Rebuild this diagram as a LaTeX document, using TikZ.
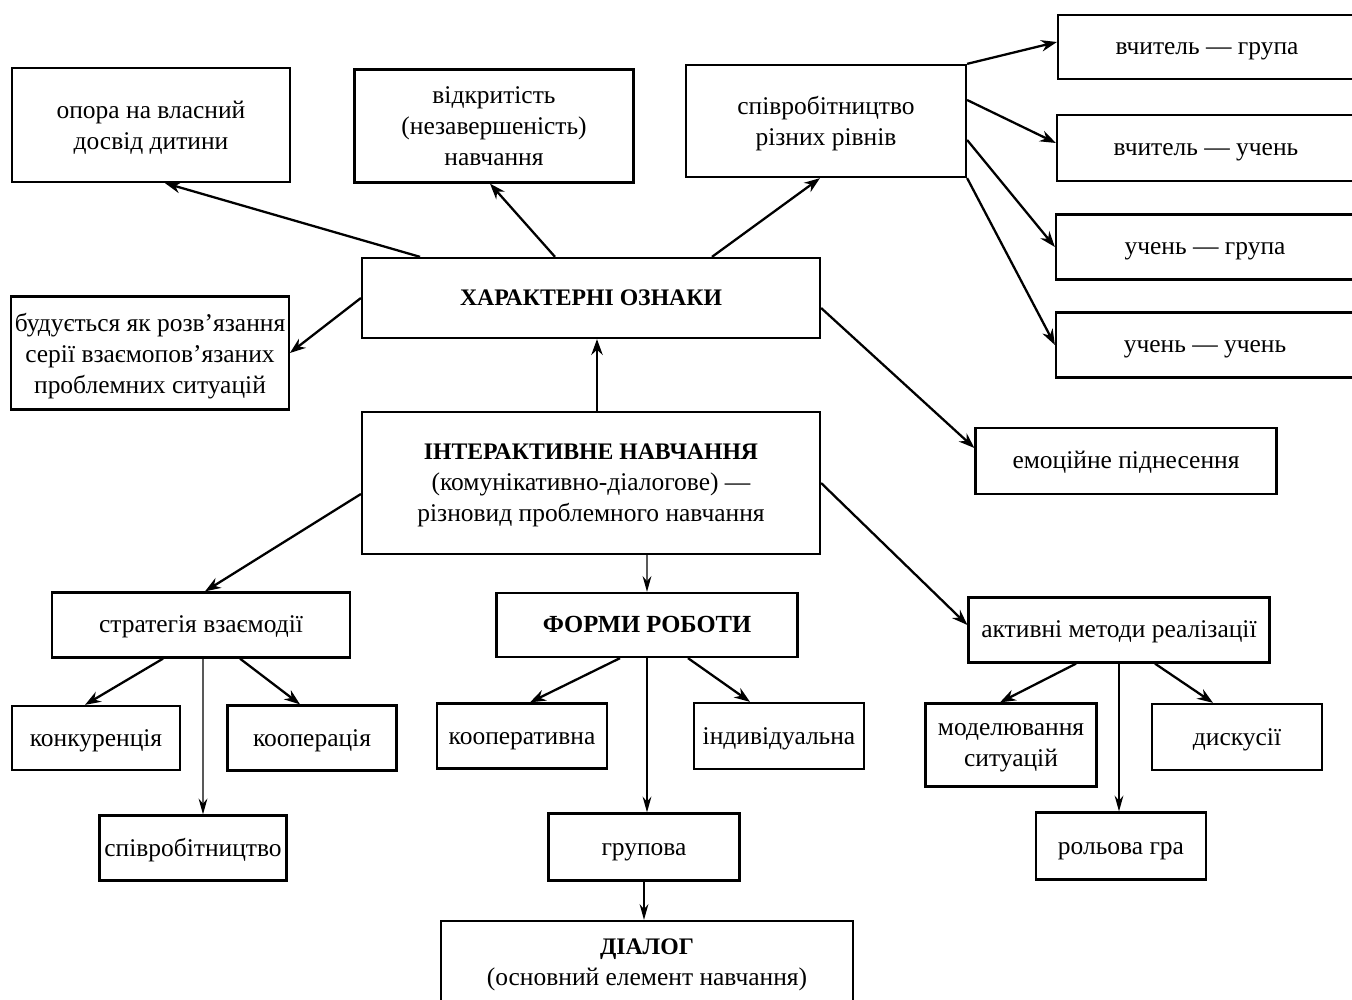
\documentclass[tikz,border=0pt]{standalone}
\usepackage{fontspec}
\setmainfont{Liberation Serif}
\usetikzlibrary{arrows.meta}
\tikzset{
  base/.style={draw, line width=1.3pt, inner sep=2pt,
    font=\fontsize{14.5}{17.6}\selectfont},
  box/.style={base, text height=11pt, text depth=1.9pt},
  mbox/.style={base, align=center, text depth=-1.5pt},
  hbox/.style={box, font=\fontsize{13.5}{17.6}\selectfont\bfseries},
  arr/.style={line width=1.3pt, -{Stealth[length=9pt,width=6.5pt]}},
  thin/.style={line width=0.8pt, -{Stealth[length=9pt,width=5pt]}}
}
\begin{document}
\begin{tikzpicture}[x=0.02cm,y=-0.02cm]
\useasboundingbox (0,0) rectangle (1352,1000);
\clip (0,0) rectangle (1352,1000);
% top row
\node[mbox, minimum width=5.56cm, minimum height=2.28cm] (op) at (151,125) {опора на власний\\досвід дитини};
\node[mbox, minimum width=5.58cm, minimum height=2.26cm] (vk) at (494,126) {відкритість\\(незавершеність)\\навчання};
\node[mbox, minimum width=5.60cm, minimum height=2.24cm] (sp) at (826,121) {співробітництво\\різних рівнів};
% right column
\node[box, minimum width=5.96cm, minimum height=1.28cm] (vg) at (1207,47) {вчитель — група};
\node[box, minimum width=5.96cm, minimum height=1.32cm] (vu) at (1206,148) {вчитель — учень};
\node[box, minimum width=5.96cm, minimum height=1.30cm] (ug) at (1205,247) {учень — група};
\node[box, minimum width=5.96cm, minimum height=1.30cm] (uu) at (1205,345) {учень — учень};
% middle
\node[hbox, minimum width=9.16cm, minimum height=1.60cm] (ch) at (591,298) {ХАРАКТЕРНІ ОЗНАКИ};
\node[mbox, minimum width=5.54cm, minimum height=2.26cm] (bu) at (150,353) {будується як розв'язання\\серії взаємопов'язаних\\проблемних ситуацій};
\node[mbox, minimum width=9.16cm, minimum height=2.84cm] (in) at (591,483) {{\bfseries\fontsize{13.5}{17.6}\selectfont ІНТЕРАКТИВНЕ НАВЧАННЯ}\\(комунікативно-діалогове) —\\різновид проблемного навчання};
\node[box, minimum width=6.02cm, minimum height=1.32cm] (em) at (1126,461) {емоційне піднесення};
% second level
\node[box, minimum width=5.96cm, minimum height=1.30cm] (st) at (201,625) {стратегія взаємодії};
\node[hbox, minimum width=6.02cm, minimum height=1.28cm, font=\fontsize{14}{17.6}\selectfont\bfseries] (fr) at (647,625) {ФОРМИ РОБОТИ};
\node[box, minimum width=6.02cm, minimum height=1.30cm] (ak) at (1119,630) {активні методи реалізації};
% leaves
\node[box, minimum width=3.36cm, minimum height=1.28cm] (ko) at (96,738) {конкуренція};
\node[box, minimum width=3.38cm, minimum height=1.30cm] (kp) at (312,738) {кооперація};
\node[box, minimum width=3.74cm, minimum height=1.30cm] (sv) at (193,848) {співробітництво};
\node[box, minimum width=3.40cm, minimum height=1.30cm] (kt) at (522,736) {кооперативна};
\node[box, minimum width=3.40cm, minimum height=1.32cm] (id) at (779,736) {індивідуальна};
\node[box, minimum width=3.82cm, minimum height=1.34cm] (gr) at (644,847) {групова};
\node[mbox, minimum width=8.24cm, minimum height=1.64cm] (di) at (647,962) {{\bfseries\fontsize{13.5}{17.6}\selectfont ДІАЛОГ}\\(основний елемент навчання)};
\node[mbox, minimum width=3.42cm, minimum height=1.66cm] (mo) at (1011,745) {моделювання\\ситуацій};
\node[box, minimum width=3.40cm, minimum height=1.32cm] (ds) at (1237,737) {дискусії};
\node[box, minimum width=3.40cm, minimum height=1.34cm] (rg) at (1121,846) {рольова гра};
% arrows from ХАРАКТЕРНІ ОЗНАКИ
\draw[arr] ([xshift=-3.42cm]ch.north) -- ([xshift=0.28cm]op.south);
\draw[arr] ([xshift=-0.72cm]ch.north) -- ([xshift=-0.08cm]vk.south);
\draw[arr] ([xshift=2.42cm]ch.north) -- ([xshift=-0.12cm]sp.south);
\draw[arr] (ch.west) -- (bu.east);
\draw[arr] ([yshift=-0.2cm]ch.east) -- ([yshift=0.26cm]em.west);
\draw[arr] ([xshift=0.12cm]in.north) -- ([xshift=0.12cm]ch.south);
% from співробітництво
\draw[arr] (sp.north east) -- ([yshift=0.1cm]vg.west);
\draw[arr] ([yshift=0.42cm]sp.east) -- ([yshift=0.1cm]vu.west);
\draw[arr] ([yshift=-0.38cm]sp.east) -- (ug.west);
\draw[arr] (sp.south east) -- (uu.west);
% from ІНТЕРАКТИВНЕ НАВЧАННЯ
\draw[arr] ([yshift=-0.22cm]in.west) -- ([xshift=0.08cm]st.north);
\draw[thin] ([xshift=1.12cm]in.south) -- (fr.north);
\draw[arr] (in.east) -- ([yshift=0.1cm]ak.west);
% from стратегія
\draw[arr] ([xshift=-0.76cm]st.south) -- ([xshift=-0.22cm]ko.north);
\draw[thin] ([xshift=0.04cm]st.south) -- ([xshift=0.2cm]sv.north);
\draw[arr] ([xshift=0.78cm]st.south) -- ([xshift=-0.24cm]kp.north);
% from ФОРМИ
\draw[arr] ([xshift=-0.54cm]fr.south) -- ([xshift=0.16cm]kt.north);
\draw[thin] (fr.south) -- (fr.south |- gr.north);
\draw[arr] ([xshift=0.82cm]fr.south) -- ([xshift=-0.58cm]id.north);
\draw[thin] (gr.south) -- (gr.south |- di.north);
% from активні
\draw[arr] ([xshift=-0.86cm]ak.south) -- ([xshift=-0.22cm]mo.north);
\draw[thin] (ak.south) -- (ak.south |- rg.north);
\draw[arr] ([xshift=0.72cm]ak.south) -- ([xshift=-0.48cm]ds.north);
\end{tikzpicture}
\end{document}
